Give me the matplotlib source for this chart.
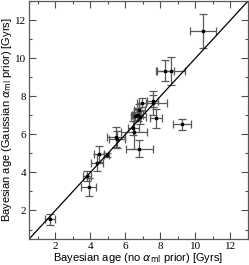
import numpy as np
import matplotlib
matplotlib.use("Agg")
import matplotlib.pyplot as plt
from matplotlib.ticker import MultipleLocator

# Bayesian ages (no alpha_ml prior) vs (Gaussian alpha_ml prior), Gyrs
age_flat = [1.68, 3.78, 3.91, 4.37, 4.50, 4.92, 5.46, 5.51, 6.45, 6.49, 6.80,
            6.54, 6.64, 6.71, 6.79, 6.82, 6.92, 7.76, 7.55, 7.57, 8.26, 8.58,
            9.23, 10.41]
age_gauss = [1.53, 3.80, 3.22, 4.50, 4.95, 4.91, 5.86, 5.75, 6.33, 6.12, 5.25,
             6.94, 7.03, 7.03, 7.29, 6.90, 7.67, 6.85, 7.76, 7.64, 9.33, 9.33,
             6.52, 11.42]
err_flat = [0.28, 0.23, 0.42, 0.36, 0.30, 0.12, 0.50, 0.45, 0.30, 0.75, 0.75,
            0.25, 0.25, 0.30, 0.30, 0.35, 0.25, 0.35, 0.30, 0.80, 0.50, 0.80,
            0.50, 0.75]
err_gauss = [0.28, 0.25, 0.48, 0.45, 0.42, 0.12, 0.50, 0.45, 0.35, 0.90, 0.45,
             0.25, 0.30, 0.35, 0.30, 0.35, 0.25, 0.50, 0.30, 0.65, 0.55, 0.75,
             0.30, 0.90]

fig = plt.figure(figsize=(2.49, 2.65), dpi=100)
ax = fig.add_axes([0.117, 0.098, 0.879, 0.898])

ax.errorbar(age_flat, age_gauss, xerr=err_flat, yerr=err_gauss, fmt='s',
            ms=2, color='black', ecolor='0.35', elinewidth=0.9, capsize=3,
            capthick=0.9)
ax.plot([0.5, 13], [0.5, 13], color='black', lw=0.9)

ax.set_xlim(0.5, 13)
ax.set_ylim(0.5, 13)
for a in (ax.xaxis, ax.yaxis):
    a.set_major_locator(MultipleLocator(2))
    a.set_minor_locator(MultipleLocator(1))
ax.tick_params(which='both', direction='in', top=True, right=True,
               colors='0.3', labelcolor='black', width=0.8)
ax.tick_params(which='major', length=5, labelsize=8, pad=2)
ax.tick_params(which='minor', length=2.5)
for lab in ax.get_xticklabels() + ax.get_yticklabels():
    lab.set_family('Liberation Serif')
for s in ax.spines.values():
    s.set_color('0.35')
    s.set_linewidth(0.9)

ax.set_xlabel(r'Bayesian age (no $\alpha_{\rm ml}$ prior) [Gyrs]',
              family='Liberation Sans', fontsize=8, labelpad=0)
ax.set_ylabel(r'Bayesian age (Gaussian $\alpha_{\rm ml}$ prior) [Gyrs]',
              family='Liberation Sans', fontsize=8, labelpad=1)

fig.savefig('out.png', dpi=100)
